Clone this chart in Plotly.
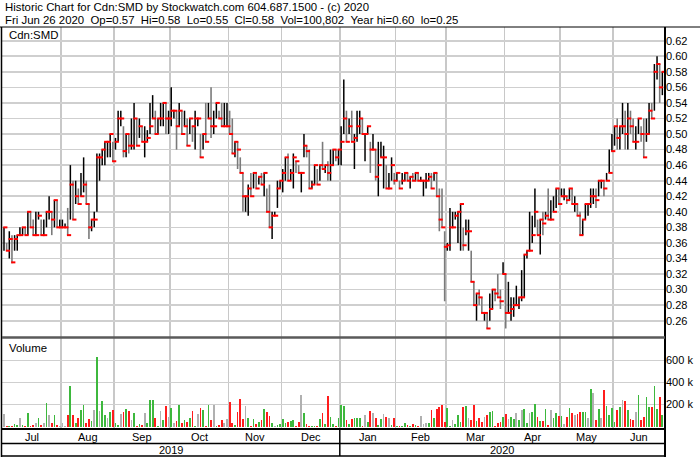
import plotly.graph_objects as go

# ---------------- text ----------------
title_line1 = "Historic Chart for Cdn:SMD by Stockwatch.com 604.687.1500 - (c) 2020"
title_line2 = "Fri Jun 26 2020  Op=0.57  Hi=0.58  Lo=0.55  Cl=0.58  Vol=100,802  Year hi=0.60  lo=0.25"
symbol_label = "Cdn:SMD"
volume_label = "Volume"

month_labels = ["Jul", "Aug", "Sep", "Oct", "Nov", "Dec", "Jan", "Feb", "Mar", "Apr", "May", "Jun"]
month_bar_counts = [22, 20, 21, 22, 20, 22, 21, 19, 22, 21, 20, 19]
year_labels = ["2019", "2020"]
year_month_counts = [6, 6]

price_ticks = [0.26, 0.28, 0.30, 0.32, 0.34, 0.36, 0.38, 0.40, 0.42, 0.44,
               0.46, 0.48, 0.50, 0.52, 0.54, 0.56, 0.58, 0.60, 0.62]
volume_ticks = [200, 400, 600]
volume_tick_labels = ["200 k", "400 k", "600 k"]

# ---------------- daily data ----------------
high = [
    # Jul
    .38, .36, .375, .37, .37, .37, .38, .38, .38, .40, .40, .39, .40, .40, .39, .39, .40, .42, .40, .415, .415, .39,
    # Aug
    .39, .385, .405, .46, .44, .44, .43, .45, .47, .44, .41, .39, .40, .475, .475, .48, .49, .49, .50, .49,
    # Sep
    .495, .53, .53, .51, .50, .50, .52, .54, .52, .52, .51, .51, .505, .54, .55, .53, .52, .54, .54, .54, .53,
    # Oct
    .56, .53, .53, .54, .53, .53, .52, .52, .51, .53, .52, .50, .50, .54, .54, .56, .53, .54, .53, .54, .54, .54,
    # Nov
    .53, .52, .49, .49, .47, .45, .42, .435, .45, .45, .45, .445, .45, .45, .43, .435, .40, .40, .44, .44,
    # Dec
    .455, .47, .475, .455, .475, .465, .46, .45, .50, .485, .48, .44, .46, .455, .46, .49, .46, .465, .48, .48, .48, .48,
    # Jan
    .51, .57, .53, .52, .53, .50, .53, .53, .52, .50, .51, .49, .50, .48, .49, .49, .485, .46, .45, .47, .45,
    # Feb
    .45, .44, .45, .45, .45, .445, .45, .45, .45, .445, .44, .45, .45, .45, .45, .45, .43, .43, .375,
    # Mar
    .36, .405, .40, .40, .40, .41, .38, .39, .39, .35, .31, .295, .30, .29, .27, .27, .295, .30, .30, .32, .30, .335,
    # Apr
    .32, .31, .29, .29, .305, .29, .325, .345, .35, .40, .395, .43, .39, .39, .40, .40, .43, .415, .42, .43, .43,
    # May
    .43, .43, .42, .43, .43, .42, .41, .40, .39, .41, .41, .43, .43, .43, .44, .44, .44, .45, .48, .50,
    # Jun
    .51, .52, .51, .54, .53, .54, .53, .52, .51, .52, .51, .52, .52, .54, .54, .59, .60, .59, .58,
]

low = [
    .35, .35, .34, .334, .35, .35, .37, .37, .37, .37, .38, .37, .37, .39, .37, .37, .38, .39, .37, .38, .38, .38,
    .38, .38, .37, .39, .39, .41, .41, .42, .425, .41, .365, .375, .38, .40, .44, .46, .46, .47, .47, .465,
    .48, .49, .51, .47, .47, .475, .48, .48, .485, .495, .49, .47, .49, .50, .52, .50, .50, .51, .51, .50, .50,
    .51, .52, .48, .51, .50, .51, .485, .50, .49, .48, .51, .47, .48, .49, .52, .495, .50, .52, .52, .51, .51, .51,
    .50, .475, .47, .455, .45, .40, .40, .395, .42, .43, .43, .435, .435, .42, .40, .38, .365, .395, .405, .43,
    .425, .44, .44, .44, .43, .45, .45, .425, .47, .47, .43, .43, .435, .435, .44, .455, .45, .44, .44, .46, .465, .46,
    .46, .50, .49, .50, .49, .455, .49, .50, .50, .465, .50, .45, .48, .44, .42, .47, .43, .43, .43, .44, .435,
    .44, .43, .435, .44, .44, .43, .44, .44, .44, .44, .42, .43, .44, .43, .44, .42, .375, .38, .285,
    .35, .35, .38, .39, .36, .35, .35, .37, .35, .31, .28, .26, .28, .27, .26, .25, .26, .275, .285, .29, .275, .32,
    .25, .27, .26, .265, .28, .275, .285, .29, .34, .35, .36, .38, .37, .345, .37, .39, .39, .39, .40, .405, .41,
    .42, .415, .41, .415, .41, .40, .395, .37, .37, .39, .395, .405, .41, .405, .42, .43, .42, .44, .45, .478,
    .485, .48, .48, .50, .48, .48, .50, .49, .48, .50, .49, .47, .49, .50, .52, .53, .57, .54, .55,
]

close = [
    .38, .35, .365, .335, .365, .37, .37, .38, .37, .40, .38, .37, .37, .395, .37, .37, .40, .40, .39, .415, .38, .38,
    .38, .38, .37, .435, .39, .42, .41, .42, .435, .41, .38, .39, .39, .47, .47, .48, .49, .49, .50, .465,
    .49, .52, .52, .478, .50, .485, .485, .52, .485, .51, .49, .49, .495, .51, .52, .50, .52, .52, .54, .52, .52,
    .53, .53, .51, .53, .50, .51, .485, .52, .51, .52, .52, .47, .50, .49, .52, .51, .51, .54, .52, .51, .51, .51,
    .50, .475, .49, .48, .45, .42, .42, .43, .42, .45, .43, .445, .435, .45, .40, .38, .395, .395, .43, .44,
    .45, .47, .44, .45, .47, .465, .45, .45, .485, .478, .43, .435, .46, .435, .46, .455, .46, .45, .46, .48, .47, .48,
    .49, .52, .49, .51, .49, .495, .51, .52, .50, .50, .51, .48, .48, .445, .46, .47, .47, .43, .43, .46, .44,
    .45, .43, .44, .45, .44, .445, .44, .45, .44, .44, .44, .44, .445, .43, .45, .42, .39, .38, .355,
    .357, .38, .38, .395, .40, .41, .357, .375, .375, .31, .28, .295, .29, .27, .27, .25, .275, .30, .295, .29, .285, .32,
    .27, .27, .275, .28, .28, .29, .29, .345, .35, .35, .37, .40, .37, .39, .385, .395, .39, .39, .40, .43, .41,
    .42, .42, .415, .43, .41, .41, .395, .37, .39, .41, .41, .42, .42, .415, .44, .44, .43, .44, .45, .478,
    .51, .495, .51, .51, .50, .52, .51, .49, .49, .52, .50, .47, .50, .53, .52, .58, .59, .56, .58,
]

volume_k = [
    112, 5, 5, 5, 20, 15, 75, 15, 3, 120, 5, 10, 35, 75, 10, 35, 218, 105, 30, 105,
    10, 8, 35, 8, 105, 370, 105, 30, 80, 150, 195, 30, 70, 50, 150, 630, 140, 235, 105, 75,
    135, 150, 30, 10, 110, 135, 160, 140, 60, 120,
    5, 20, 10, 120, 35, 240, 245, 75, 3, 140, 60, 185, 90, 165, 35, 50, 200, 30, 60, 45,
    75, 140, 5, 110, 165, 150, 5, 195, 60, 200, 8, 10, 60, 30, 70, 220, 35, 10, 135, 250,
    70, 185, 75, 8, 65, 25, 45, 60, 155, 135,
    100, 35, 3, 15, 20, 65, 30, 45, 50, 55, 8, 45, 285, 120, 20, 5, 3, 5, 8, 65,
    120, 20, 280, 85, 20, 3, 75, 200, 185, 60, 20, 65, 75, 80, 75, 5, 105, 45, 140, 125,
    75, 15, 65, 110, 90, 80, 15, 75, 5, 5,
    3, 35, 15, 5, 20, 15, 2, 95, 20, 35, 30, 150, 75, 155, 175, 200, 45, 165, 5, 60,
    20, 105, 45, 175, 190, 75, 60, 195, 50, 80, 45, 90, 105, 135, 140, 3, 30, 45, 90, 110,
    70, 90, 70, 120, 60, 150, 155, 30, 120, 135,
    205, 90, 50, 50, 155, 15, 150, 80, 125, 100, 100, 20, 90, 165, 120, 105, 115, 130, 135, 135,
    75, 345, 305, 60, 155, 75, 335, 185, 105, 170, 45, 150, 180, 245, 235, 150, 65, 60, 135, 285,
    60, 90, 265, 180, 175, 370, 155, 270, 101,
]

# ---------------- geometry helpers ----------------
W, H = 700, 457
def px(x):
    return x / W
def py(y):
    return 1 - y / H

FONT = "Liberation Sans, Arial, sans-serif"
FS = 11
n = len(close)
xs = list(range(n))
X_LO, X_HI = -0.75, n
PLOT_L, PLOT_R = 2, 665

def xpix(v):
    return PLOT_L + (v - X_LO) / (X_HI - X_LO) * (PLOT_R - PLOT_L)

# price axis scale: 0.62 at y=40.7 px, 0.26 at y=320.7 px
ppu = (320.7 - 40.7) / (0.62 - 0.26)
price_top = 0.62 + (40.7 - 27) / ppu
price_bot = 0.26 - (337 - 320.7) / ppu
# volume axis scale: 0 at y=426.5, 200k per 22 px
ppk = 22 / 200
vol_top = (426.5 - 338) / ppk
vol_bot = -(428 - 426.5) / ppk

# ---------------- direction / colours ----------------
direction = [0] + [(1 if close[i] > close[i - 1] else (-1 if close[i] < close[i - 1] else 0)) for i in range(1, n)]

def stems(keep):
    sx, sy = [], []
    for i in xs:
        if keep(direction[i]):
            sx += [i, i, None]
            sy += [low[i], high[i], None]
    return sx, sy

up_x, up_y = stems(lambda d: d >= 0)
dn_x, dn_y = stems(lambda d: d < 0)

vol_colors = ["#3db83d" if d > 0 else ("#ff1c1c" if d < 0 else "#b0b0b0") for d in direction]

# month boundaries (index units)
bounds = []
acc = 0
for k in month_bar_counts[:-1]:
    acc += k
    bounds.append(acc - 0.5)
edges = [X_LO] + bounds + [X_HI]
month_centers = [(edges[i] + edges[i + 1]) / 2 for i in range(len(month_labels))]
year_edges = [X_LO]
m = 0
for k in year_month_counts:
    m += k
    year_edges.append(edges[m])
year_centers = [(year_edges[i] + year_edges[i + 1]) / 2 for i in range(len(year_labels))]

fig = go.Figure()

fig.add_trace(go.Scatter(x=dn_x, y=dn_y, mode="lines", line=dict(color="#7a7a7a", width=1.6),
                         hoverinfo="skip", xaxis="x", yaxis="y"))
fig.add_trace(go.Scatter(x=up_x, y=up_y, mode="lines", line=dict(color="#000000", width=1.5),
                         hoverinfo="skip", xaxis="x", yaxis="y"))
fig.add_trace(go.Scatter(x=[i + 0.5 for i in xs], y=close, mode="markers",
                         marker=dict(symbol="line-ew", size=3, color="#ff0000",
                                     line=dict(color="#ff0000", width=2)),
                         hoverinfo="skip", xaxis="x", yaxis="y"))
fig.add_trace(go.Bar(x=xs, y=volume_k, marker=dict(color=vol_colors, line=dict(width=0)),
                     width=0.65, xaxis="x2", yaxis="y2", hoverinfo="skip"))

grid_v = "#c8c8c8"
fig.update_layout(
    width=W, height=H,
    margin=dict(l=0, r=0, t=0, b=0),
    paper_bgcolor="white", plot_bgcolor="white",
    showlegend=False, bargap=0,
    font=dict(family=FONT, size=FS, color="black"),
    xaxis=dict(domain=[px(PLOT_L), px(PLOT_R)], range=[X_LO, X_HI], tickvals=bounds,
               showticklabels=False, showgrid=True, gridcolor=grid_v, gridwidth=1.5,
               zeroline=False, showline=False, ticks="", anchor="y"),
    yaxis=dict(domain=[py(337), py(27)], range=[price_bot, price_top], side="right",
               tickvals=price_ticks, ticktext=["%.2f" % v for v in price_ticks],
               showgrid=True, gridcolor="#cfcfcf", gridwidth=1.6, zeroline=False,
               showline=False, ticks="", ticklabelstandoff=0,
               tickfont=dict(family=FONT, size=FS, color="black"), anchor="x"),
    xaxis2=dict(domain=[px(PLOT_L), px(PLOT_R)], range=[X_LO, X_HI], tickvals=bounds,
                showticklabels=False, showgrid=True, gridcolor=grid_v, gridwidth=1.5,
                zeroline=False, showline=False, ticks="", anchor="y2", matches="x"),
    yaxis2=dict(domain=[py(428), py(338)], range=[vol_bot, vol_top], side="right",
                tickvals=volume_ticks, ticktext=volume_tick_labels,
                showgrid=True, gridcolor="#cfcfcf", gridwidth=1.6, zeroline=False,
                showline=False, ticks="", ticklabelstandoff=0,
                tickfont=dict(family=FONT, size=FS, color="black"), anchor="x2"),
)

shapes = []
def hline(y, x0, x1, color="black", width=1):
    shapes.append(dict(type="line", xref="paper", yref="paper", x0=px(x0), x1=px(x1),
                       y0=py(y), y1=py(y), line=dict(color=color, width=width), layer="above"))
def vline(x, y0, y1, color="black", width=1):
    shapes.append(dict(type="line", xref="paper", yref="paper", x0=px(x), x1=px(x),
                       y0=py(y0), y1=py(y1), line=dict(color=color, width=width), layer="above"))

# white box behind the symbol label
shapes.append(dict(type="rect", xref="paper", yref="paper", x0=px(2.5), x1=px(60.5),
                   y0=py(44), y1=py(27.5), fillcolor="white", line=dict(width=0), layer="between"))
hline(27, 0, 700, "black", 1)
vline(1.5, 27, 457, "black", 1.5)
vline(665, 27, 457, "black", 2)
hline(337.5, 2, 665, "#5a5a5a", 2.5)
hline(429, 2, 665, "black", 2)
hline(443.5, 2, 665, "black", 1.5)
hline(456, 2, 665, "black", 1.5)
vline(xpix(year_edges[1]), 429, 456, "black", 1.5)
fig.update_layout(shapes=shapes)

ann = []
ann.append(dict(text=title_line1.replace("  ", "\u00a0\u00a0"), x=px(3), y=py(7), xref="paper", yref="paper",
                xanchor="left", yanchor="middle", showarrow=False, font=dict(family=FONT, size=11.4)))
ann.append(dict(text=title_line2.replace("  ", "\u00a0\u00a0"), x=px(3), y=py(20), xref="paper", yref="paper",
                xanchor="left", yanchor="middle", showarrow=False, font=dict(family=FONT, size=11.4)))
ann.append(dict(text=symbol_label, x=px(7), y=py(35), xref="paper", yref="paper",
                xanchor="left", yanchor="middle", showarrow=False, font=dict(family=FONT, size=11.4)))
ann.append(dict(text=volume_label, x=px(7), y=py(348), xref="paper", yref="paper",
                xanchor="left", yanchor="middle", showarrow=False, font=dict(family=FONT, size=11.4)))
for lab, c in zip(month_labels, month_centers):
    ann.append(dict(text=lab, x=c, y=py(436.5), xref="x", yref="paper", xanchor="center",
                    yanchor="middle", showarrow=False, font=dict(family=FONT, size=FS)))
for lab, c in zip(year_labels, year_centers):
    ann.append(dict(text=lab, x=c, y=py(450), xref="x", yref="paper", xanchor="center",
                    yanchor="middle", showarrow=False, font=dict(family=FONT, size=FS)))
fig.update_layout(annotations=ann)

fig.write_html("out.html", config={"displayModeBar": False, "staticPlot": True},
               post_script="document.body.style.margin='0';document.body.style.overflow='hidden';")
